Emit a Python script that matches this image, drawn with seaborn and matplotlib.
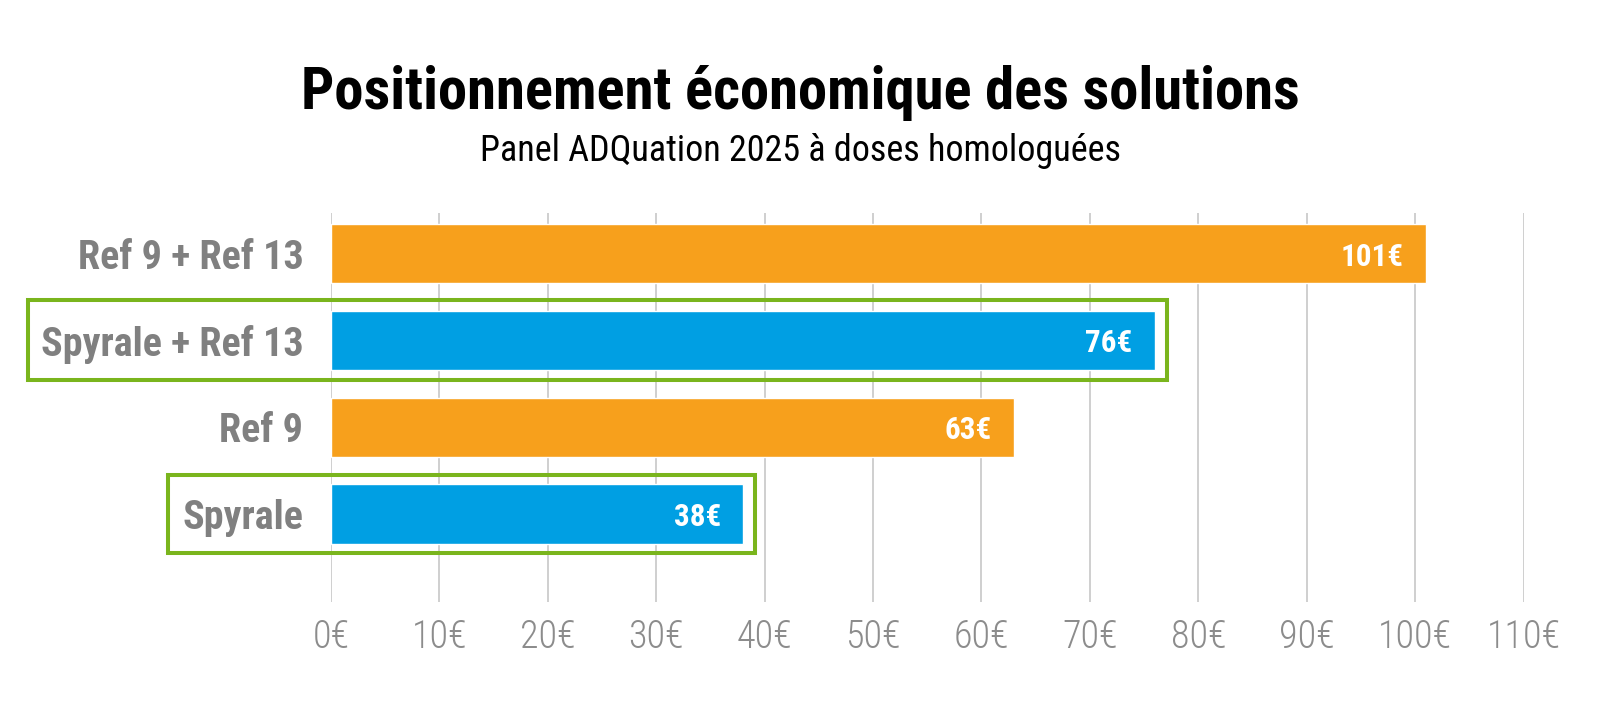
import matplotlib
matplotlib.use("Agg")
import matplotlib.pyplot as plt
import matplotlib.patches as mpatches
from matplotlib import font_manager
import seaborn as sns
import pandas as pd

# chart data
solutions = ["Ref 9 + Ref 13", "Spyrale + Ref 13", "Ref 9", "Spyrale"]
costs = [101, 76, 63, 38]
bar_colors = ["#F7A01C", "#009FE3", "#F7A01C", "#009FE3"]
highlighted = ["Spyrale + Ref 13", "Spyrale"]
x_ticks = list(range(0, 111, 10))
title = "Positionnement économique des solutions"
subtitle = "Panel ADQuation 2025 à doses homologuées"

sns.set_theme(style="white")

# look for a condensed face, the reference uses a narrow grotesque
entries = font_manager.fontManager.ttflist
names = {f.name for f in entries}
family = None
for want in ["Liberation Sans Narrow", "Roboto Condensed", "Open Sans Condensed",
             "DejaVu Sans Condensed", "Noto Sans Condensed"]:
    if want in names:
        family = want
        break
if family is None:
    dj = [f for f in entries if f.name == "DejaVu Sans" and "ondensed" in f.fname]
    if dj:
        family = "DejaVu Sans"
        plt.rcParams["font.stretch"] = "condensed"
if family is None:
    family = "Roboto" if "Roboto" in names else "DejaVu Sans"
plt.rcParams["font.family"] = [family, "DejaVu Sans"]

df = pd.DataFrame({"solution": solutions, "cost": costs})

fig = plt.figure(figsize=(16, 7.16), dpi=100)
renderer = fig.canvas.get_renderer()


def fit_size(text, target_px, weight="normal", base=20):
    # font size that makes the text about target_px wide
    t = fig.text(0, 0, text, fontsize=base, fontweight=weight)
    w = t.get_window_extent(renderer=renderer).width
    t.remove()
    return base * target_px / w


title_fs = fit_size(title, 997, "bold")
sub_fs = fit_size(subtitle, 640)
cat_fs = fit_size("Spyrale + Ref 13", 262, "bold")
val_fs = fit_size("101€", 63, "bold")
tick_fs = fit_size("100€", 74, "light")

ax = fig.add_axes([0.2069, 0.1592, 0.7453, 0.5433])

sns.barplot(data=df, x="cost", y="solution", hue="solution", palette=bar_colors,
            legend=False, width=0.68, saturation=1, ax=ax, zorder=3)

ax.set_xlim(0, 110)
ax.set_ylim(4.014, -0.467)
ax.set_xticks(x_ticks)
ax.set_xticklabels([f"{t}€" for t in x_ticks], color="#8C8C8C", fontsize=tick_fs,
                   fontweight="light")
ax.tick_params(axis="x", length=0, pad=12)
ax.tick_params(axis="y", length=0, pad=20)
for lab in ax.get_yticklabels():
    lab.set_fontsize(cat_fs)
    lab.set_fontweight("bold")
    lab.set_color("#808080")
ax.set_xlabel("")
ax.set_ylabel("")
ax.grid(axis="x", color="#CCCCCC", linewidth=1.3, zorder=0)
for s in ax.spines.values():
    s.set_visible(False)

# value labels inside bars
for i, v in enumerate(costs):
    ax.annotate(f"{v}€", xy=(v, i), xytext=(-16, 0), textcoords="offset points",
                ha="right", va="center_baseline", color="white", fontsize=val_fs,
                fontweight="bold", zorder=5)

# green highlight boxes around the Spyrale solutions
box_left = {"Spyrale + Ref 13": -27.95, "Spyrale": -15.0}
box_half = {"Spyrale + Ref 13": 0.46, "Spyrale": 0.45}
for name in highlighted:
    i = solutions.index(name)
    left = box_left[name]
    right = costs[i] + 1.1
    h = box_half[name]
    rect = mpatches.Rectangle((left, i - h), right - left, 2 * h, fill=False,
                              edgecolor="#7AB51D", linewidth=2.9, clip_on=False, zorder=6)
    ax.add_patch(rect)

fig.text(0.5, 0.8478, title, ha="center", va="baseline",
         fontsize=title_fs, fontweight="bold", color="black")
fig.text(0.5, 0.7751, subtitle, ha="center", va="baseline",
         fontsize=sub_fs, color="black")

fig.savefig("out.png", dpi=100)
